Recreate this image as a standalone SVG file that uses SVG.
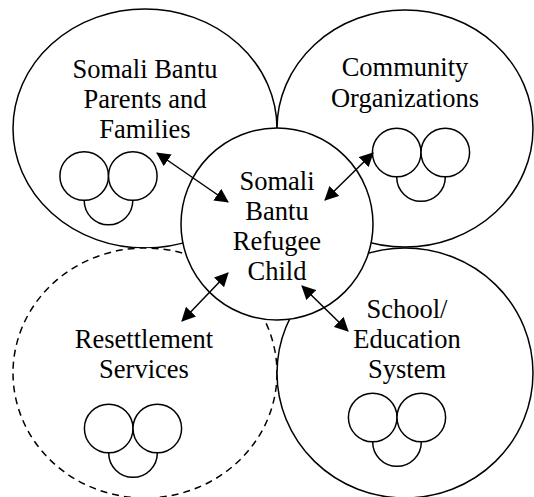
<svg xmlns="http://www.w3.org/2000/svg" width="534" height="497" viewBox="0 0 534 497">
  <defs>
    <style>
      .ring { fill: #fff; stroke: #000; stroke-width: 1.5; }
      .dashed { stroke-dasharray: 7 5; }
      .icon circle { fill: #fff; stroke: #000; stroke-width: 1.5; }
      .label { font-family: "Liberation Serif", "Times New Roman", serif; font-size: 26.5px; fill: #000; text-anchor: middle; }
      .link { stroke: #000; stroke-width: 1.5; fill: none; marker-start: url(#head); marker-end: url(#head); }
    </style>
    <marker id="head" viewBox="0 0 14 14" refX="13" refY="7" markerWidth="14" markerHeight="14" markerUnits="userSpaceOnUse" orient="auto-start-reverse">
      <path d="M0,0 L14,7 L0,14 Z" fill="#000"/>
    </marker>
    <!-- three-person family icon, centred on the top pair's midpoint -->
    <g id="trio" class="icon">
      <circle cx="0" cy="24.5" r="24.3"/>
      <circle cx="-24.3" cy="0" r="24.3"/>
      <circle cx="24.3" cy="0" r="24.3"/>
    </g>
  </defs>

  <rect width="534" height="497" fill="#fff"/>

  <g id="parents">
    <ellipse class="ring" cx="145" cy="128.5" rx="132" ry="119.5"/>
    <text class="label" x="145" y="78">Somali Bantu</text>
    <text class="label" x="145" y="108">Parents and</text>
    <text class="label" x="145" y="138">Families</text>
    <use href="#trio" x="108.5" y="176"/>
  </g>

  <g id="community">
    <ellipse class="ring" cx="405" cy="128.5" rx="128" ry="118.5"/>
    <text class="label" x="405" y="76">Community</text>
    <text class="label" x="405" y="107">Organizations</text>
    <use href="#trio" x="421" y="152.5"/>
  </g>

  <g id="resettlement">
    <ellipse class="ring dashed" cx="145" cy="373" rx="132" ry="125"/>
    <text class="label" x="144" y="348">Resettlement</text>
    <text class="label" x="144" y="378">Services</text>
    <use href="#trio" x="133" y="428.5"/>
  </g>

  <g id="school">
    <ellipse class="ring" cx="405" cy="373" rx="128" ry="125"/>
    <text class="label" x="407" y="318">School/</text>
    <text class="label" x="407" y="348">Education</text>
    <text class="label" x="407" y="378">System</text>
    <use href="#trio" x="397" y="417.5"/>
  </g>

  <g id="child">
    <circle class="ring" cx="277" cy="224" r="96"/>
    <text class="label" x="277" y="190">Somali</text>
    <text class="label" x="277" y="220">Bantu</text>
    <text class="label" x="277" y="250">Refugee</text>
    <text class="label" x="277" y="280">Child</text>
  </g>

  <g id="connectors">
    <line class="link" x1="157" y1="153" x2="228" y2="202"/>
    <line class="link" x1="373" y1="153" x2="325" y2="200"/>
    <line class="link" x1="182" y1="321" x2="228" y2="273"/>
    <line class="link" x1="302" y1="286" x2="348" y2="331"/>
  </g>
</svg>
